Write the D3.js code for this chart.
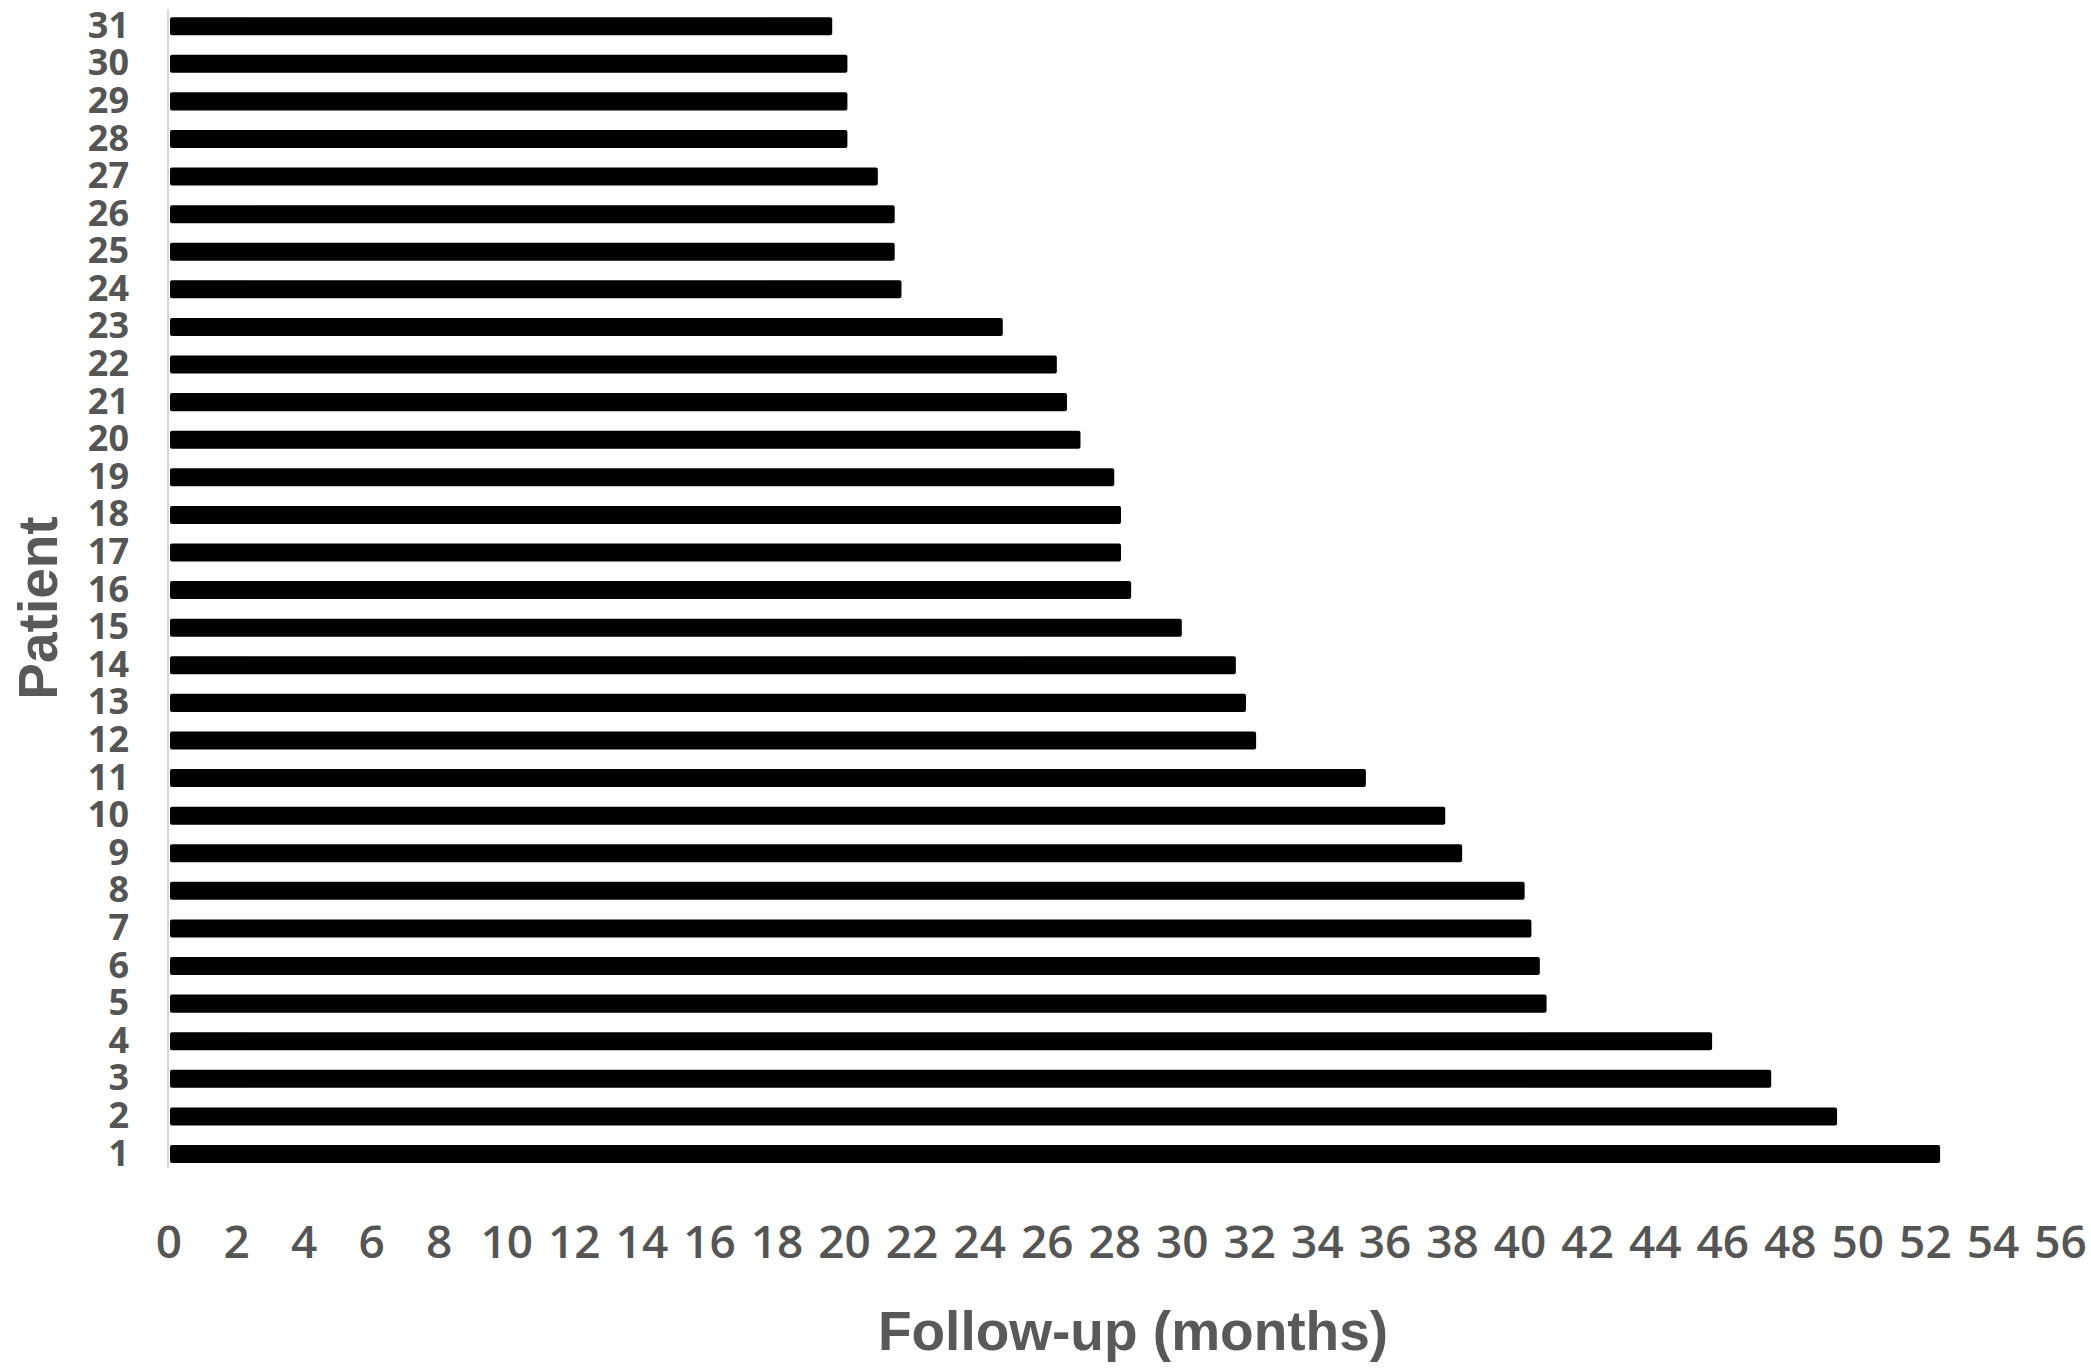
<!DOCTYPE html>
<html>
<head>
<meta charset="utf-8">
<script src="https://cdn.jsdelivr.net/npm/d3@7"></script>
<style>
  html, body { margin: 0; padding: 0; background: #fff; }
  svg { display: block; }
</style>
</head>
<body>
<svg id="chart" width="2091" height="1369"></svg>
<script>
// Patients (bottom to top = 1..31)
const patients = ["1","2","3","4","5","6","7","8","9","10","11","12","13","14","15","16","17","18","19","20","21","22","23","24","25","26","27","28","29","30","31"];
// Follow-up in months per patient
const followUp = [52.45, 49.4, 47.45, 45.7, 40.8, 40.6, 40.35, 40.15, 38.3, 37.8, 35.45, 32.2, 31.9, 31.6, 30.0, 28.5, 28.2, 28.2, 28.0, 27.0, 26.6, 26.3, 24.7, 21.7, 21.5, 21.5, 21.0, 20.1, 20.1, 20.1, 19.65];
// X tick labels
const xTicks = d3.range(0, 57, 2);
const xTitle = "Follow-up (months)";
const yTitle = "Patient";

const data = patients.map((p, i) => ({ patient: p, value: followUp[i] }));

const svg = d3.select("#chart");
svg.append("rect").attr("width", 2091).attr("height", 1369).attr("fill", "#fff");

const x = d3.scaleLinear().domain([0, 56]).range([168.5, 2060]);
const y = d3.scaleBand()
  .domain(patients.slice().reverse())
  .range([7.4, 1172.8])
  .paddingInner(0.52)
  .paddingOuter(0.26);

// vertical axis line
svg.append("line")
  .attr("x1", 168).attr("x2", 168)
  .attr("y1", 10).attr("y2", 1168)
  .attr("stroke", "#c8c8c8").attr("stroke-width", 1.5);

// bars
svg.append("g").selectAll("rect")
  .data(data)
  .join("rect")
  .attr("x", x(0) + 1.5)
  .attr("y", d => y(d.patient))
  .attr("width", d => x(d.value) - x(0) - 1.5)
  .attr("height", y.bandwidth())
  .attr("rx", 2)
  .attr("fill", "#000");

// x axis (labels only)
const xAxis = svg.append("g")
  .attr("transform", "translate(0,1225)")
  .call(d3.axisBottom(x).tickValues(xTicks).tickSize(0).tickPadding(0).tickFormat(d3.format("d")));
xAxis.select(".domain").remove();
xAxis.selectAll("text")
  .attr("font-family", "'Open Sans', 'Liberation Sans', sans-serif")
  .attr("font-size", 46)
  .attr("font-weight", 600)
  .attr("fill", "#555");

// y axis (labels only)
const yAxis = svg.append("g")
  .attr("transform", "translate(129,0)")
  .call(d3.axisLeft(y).tickSize(0).tickPadding(0));
yAxis.select(".domain").remove();
yAxis.selectAll("text")
  .attr("font-family", "'Open Sans', 'Liberation Sans', sans-serif")
  .attr("font-size", 36)
  .attr("font-weight", 700)
  .attr("fill", "#555");

// axis titles
svg.append("text")
  .attr("x", 1133).attr("y", 1350)
  .attr("text-anchor", "middle")
  .attr("font-family", "'Liberation Sans', Arial, sans-serif")
  .attr("font-weight", 700)
  .attr("font-size", 55)
  .attr("fill", "#595959")
  .text(xTitle);

svg.append("text")
  .attr("transform", "translate(57,608) rotate(-90)")
  .attr("text-anchor", "middle")
  .attr("font-family", "'Liberation Sans', Arial, sans-serif")
  .attr("font-weight", 700)
  .attr("font-size", 55)
  .attr("fill", "#595959")
  .text(yTitle);
</script>
</body>
</html>
